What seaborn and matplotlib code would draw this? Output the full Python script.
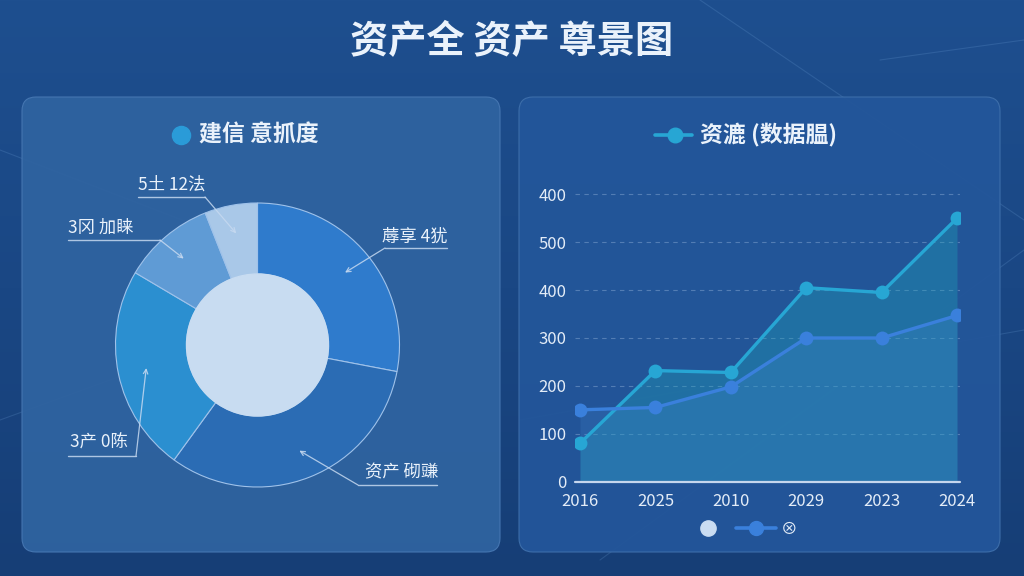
import numpy as np
import pandas as pd
import matplotlib.pyplot as plt
import seaborn as sns
from matplotlib.patches import FancyBboxPatch, Circle
from matplotlib.lines import Line2D
from matplotlib.colors import LinearSegmentedColormap

sns.set_theme(style='dark')
plt.rcParams['font.family'] = ['Noto Sans CJK SC', 'DejaVu Sans']
plt.rcParams['axes.unicode_minus'] = False

# 数据
main_title = '资产全 资产 尊景图'

pie_title = '建信 意抓度'
pie_labels = ['蓐享 4犹', '资产 砌豏', '3产 0陈', '3冈 加睐', '5土 12法']
pie_values = [28, 32, 23.5, 10.5, 6]
pie_colors = ['#2f7bcc', '#2b6cb4', '#2b8fd0', '#5f9bd5', '#a9c8e8']

line_title = '资漉 (数据腽)'
years = ['2016', '2025', '2010', '2029', '2023', '2024']
series_a = [80, 232, 228, 405, 395, 550]
series_b = [150, 155, 198, 300, 300, 347]
series_names = ['A', 'B']
series_colors = ['#27a6d4', '#3a80dc']
y_ticks = [0, 100, 200, 300, 400, 500, 600]
y_tick_labels = ['0', '100', '200', '300', '400', '500', '400']
legend_text = '⊗'

W, H = 1024, 576
fig = plt.figure(figsize=(W / 100, H / 100), dpi=100)

# 背景 + 面板
bg = fig.add_axes([0, 0, 1, 1])
bg.set_zorder(0)
cmap = LinearSegmentedColormap.from_list('bg', ['#1e4f8f', '#1a4784', '#163e76'])
grad = np.linspace(0, 1, 256).reshape(-1, 1) * np.ones((1, 2))
bg.imshow(grad, cmap=cmap, aspect='auto', extent=(0, W, H, 0), zorder=0)
bg.set_xlim(0, W)
bg.set_ylim(H, 0)
bg.axis('off')
# 背景里的淡线条 (在面板下面)
for (xa, ya, xb, yb) in [(0, 420, 330, 300), (0, 150, 260, 250), (600, 560, 1024, 250),
                         (700, 0, 1024, 220), (520, 420, 1024, 330), (880, 60, 1024, 40)]:
    bg.plot([xa, xb], [ya, yb], color='#7fb3e8', lw=0.8, alpha=0.18, zorder=0.5)
bg.add_patch(FancyBboxPatch((22, 97), 478, 455, boxstyle='round,pad=0,rounding_size=14',
                            fc='#2f63a0', ec='#4677b2', lw=0.8, alpha=0.95, zorder=1))
bg.add_patch(FancyBboxPatch((519, 97), 481, 455, boxstyle='round,pad=0,rounding_size=14',
                            fc='#23569a', ec='#3e6fab', lw=0.8, alpha=0.95, zorder=1))

fig.text(0.5, 1 - 42 / H, main_title, ha='center', va='center', fontsize=27.5,
         fontweight='bold', color='#eaf2fb')

# 环形图
R = 142
cx, cy = 257.5, 345
pad = 1.03
ax1 = fig.add_axes([(cx - R * pad) / W, 1 - (cy + R * pad) / H, 2 * R * pad / W, 2 * R * pad / H])
ax1.set_zorder(2)
wedges, _ = ax1.pie(pie_values, colors=pie_colors, startangle=90, counterclock=False, radius=1,
                    wedgeprops=dict(width=0.5, edgecolor='#9fc2ea', linewidth=0.8))
ax1.add_patch(Circle((0, 0), 0.5, color='#c8dcf1', zorder=3))
ax1.set_xlim(-pad, pad)
ax1.set_ylim(-pad, pad)
ax1.set_aspect('equal')
ax1.axis('off')

# 折线图
x = np.arange(len(years))
df = pd.DataFrame({
    'x': np.tile(x, 2),
    'value': series_a + series_b,
    'series': np.repeat(series_names, len(years)),
})
y0, y600 = 481.7, 194.3
ytop = 190
ax2 = fig.add_axes([575 / W, 1 - y0 / H, 385 / W, (y0 - ytop) / H])
ax2.set_zorder(2)
ax2.set_facecolor('none')
ax2.fill_between(x, 0, series_a, color='#1ea3b8', alpha=0.35, lw=0)
ax2.fill_between(x, 0, series_b, color='#4d93dc', alpha=0.18, lw=0)
sns.lineplot(data=df, x='x', y='value', hue='series', palette=dict(zip(series_names, series_colors)),
             marker='o', markersize=10, markeredgewidth=0, linewidth=2.4, legend=False, ax=ax2)
ax2.set_ylim(0, 600 * (y0 - ytop) / (y0 - y600))
ax2.set_xlim(-5 / 75.4, 5 + 3 / 75.4)
ax2.set_xticks(x)
ax2.set_xticklabels(years)
ax2.set_yticks(y_ticks)
ax2.set_yticklabels(y_tick_labels)
ax2.set_xlabel('')
ax2.set_ylabel('')
ax2.yaxis.grid(True, ls=(0, (4, 4)), color='#8fb0d8', alpha=0.45, lw=0.8)
ax2.xaxis.grid(False)
ax2.axhline(0, color='#c5d6ee', lw=1.6, clip_on=False)
for s in ax2.spines.values():
    s.set_visible(False)
ax2.tick_params(axis='both', length=0, labelcolor='#e3ecf7', labelsize=12)
ax2.tick_params(axis='y', pad=6)
ax2.tick_params(axis='x', pad=8)

handles = [Line2D([], [], marker='o', ls='none', color='#c9dcf2', markersize=11),
           Line2D([], [], marker='o', color=series_colors[1], lw=2.6, markersize=10)]
fig.legend(handles, ['', legend_text], loc='center', bbox_to_anchor=(743 / W, 1 - 529 / H), ncol=2,
           frameon=False, handlelength=2.4, columnspacing=0.2, handletextpad=0.3,
           labelcolor='#e3ecf7', fontsize=12)

# 标题和标签
ov = fig.add_axes([0, 0, 1, 1])
ov.set_zorder(3)
ov.set_xlim(0, W)
ov.set_ylim(H, 0)
ov.patch.set_alpha(0)
ov.axis('off')

ov.scatter([181], [135], s=170, color='#2a9bd8', zorder=4)
ov.text(199, 135, pie_title, ha='left', va='center', fontsize=16.5, fontweight='bold', color='#eaf2fb')
ov.plot([655, 692], [135, 135], color='#27a6d4', lw=2.6)
ov.scatter([675], [135], s=110, color='#27a6d4', zorder=4)
ov.text(700, 135, line_title, ha='left', va='center', fontsize=16.5, fontweight='bold', color='#eaf2fb')

# (文字中心, 下划线起止, 折点)
label_layout = [
    ((415, 237), (385, 447, 248), (385, 248)),
    ((402, 472), (358, 437, 485), (358, 485)),
    ((99, 443), (68, 136, 456), (136, 456)),
    ((101, 228), (68, 160, 240), (160, 240)),
    ((172, 185), (138, 205, 197), (205, 197)),
]
for w, lab, (tpos, uline, elbow) in zip(wedges, pie_labels, label_layout):
    mid = np.deg2rad((w.theta1 + w.theta2) / 2)
    disp = ax1.transData.transform((0.8 * np.cos(mid), 0.8 * np.sin(mid)))
    pt = (disp[0], H - disp[1])
    ov.text(tpos[0], tpos[1], lab, ha='center', va='center', fontsize=12.5, fontweight='medium',
            color='#eaf2fb')
    ov.plot([uline[0], uline[1]], [uline[2], uline[2]], color='#c6d9f0', lw=1.0, alpha=0.85)
    ov.annotate('', xy=pt, xytext=elbow,
                arrowprops=dict(arrowstyle='->', color='#c6d9f0', lw=0.9, alpha=0.85,
                                shrinkA=0, shrinkB=0, mutation_scale=8))

fig.savefig('out.png', dpi=100)
